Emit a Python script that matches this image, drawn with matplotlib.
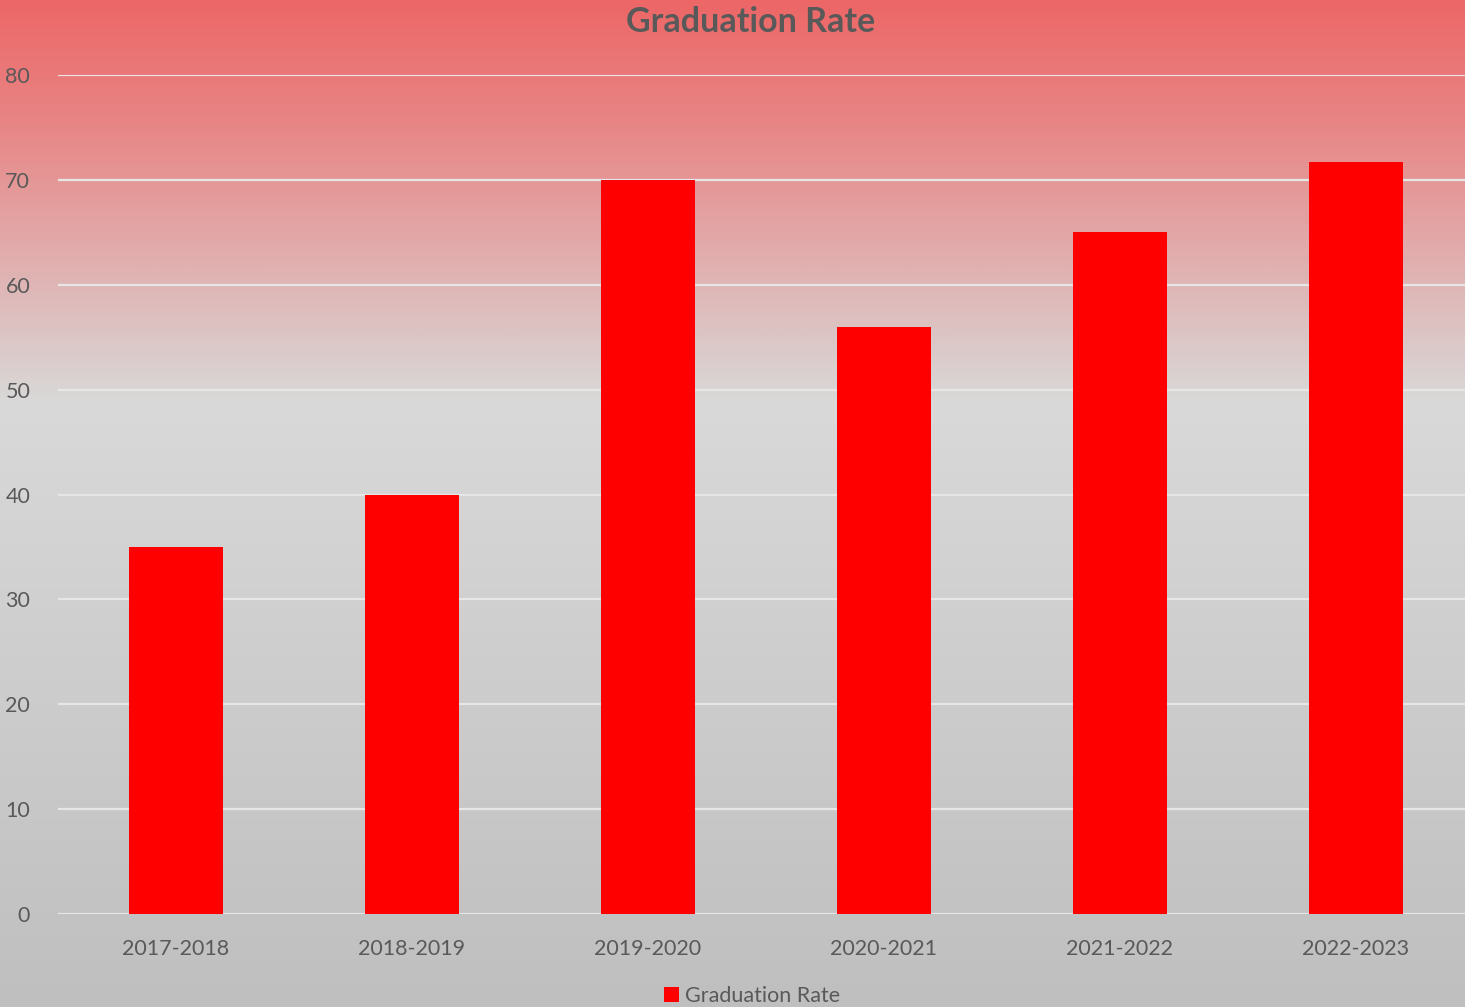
import numpy as np
import matplotlib
matplotlib.use("Agg")
import matplotlib.pyplot as plt
from matplotlib.colors import LinearSegmentedColormap
from matplotlib.patches import Patch

categories = ["2017-2018", "2018-2019", "2019-2020", "2020-2021", "2021-2022", "2022-2023"]
values = [35, 40, 70, 56, 65, 71.7]
series_name = "Graduation Rate"
yticks = [0, 10, 20, 30, 40, 50, 60, 70, 80]

W, H = 1465, 1007
fig = plt.figure(figsize=(W / 100, H / 100), dpi=100)
plt.rcParams['font.family'] = ['Lato', 'DejaVu Sans']

# background gradient
bg = fig.add_axes([0, 0, 1, 1], zorder=0)
cmap = LinearSegmentedColormap.from_list(
    "bg", [(0.0, "#ED6767"), (0.12, "#E88585"), (0.40, "#D9D9D9"), (1.0, "#BFBFBF")])
grad = np.linspace(0, 1, 512).reshape(-1, 1)
bg.imshow(grad, aspect="auto", cmap=cmap, extent=[0, 1, 0, 1], origin="upper")
bg.axis("off")

left = 58 / W
bottom = 1 - 914 / H
width = (6 * 236) / W
height = (914 - 75) / H
ax = fig.add_axes([left, bottom, width, height], zorder=1)
ax.patch.set_alpha(0)
x = np.arange(len(categories))
ax.bar(x, values, width=0.4, color="#FF0000", zorder=3)
ax.set_xlim(-0.5, len(categories) - 0.5)
ax.set_ylim(0, 80)
ax.set_yticks(yticks)
ax.set_xticks(x)
ax.set_xticklabels(categories)
ax.grid(axis="y", color="#E6E6E6", linewidth=1.6, zorder=0)
for s in ax.spines.values():
    s.set_visible(False)
ax.tick_params(axis="both", length=0, labelsize=15.5, labelcolor="#595959")
ax.tick_params(axis="x", pad=18)
ax.tick_params(axis="y", pad=20)
for lbl in ax.get_yticklabels():
    lbl.set_horizontalalignment("right")

fig.text(751 / W, 1 - 22 / H, "Graduation Rate", ha="center", va="center",
         fontsize=24.5, fontweight="bold", color="#595959")

handles = [Patch(facecolor="#FF0000", label=series_name)]
fig.legend(handles=handles, loc="center", bbox_to_anchor=(752 / W, 1 - 996 / H),
           frameon=False, fontsize=15.5, labelcolor="#595959",
           handlelength=0.7, handleheight=0.7, handletextpad=0.3)

fig.savefig("out.png", dpi=100)
